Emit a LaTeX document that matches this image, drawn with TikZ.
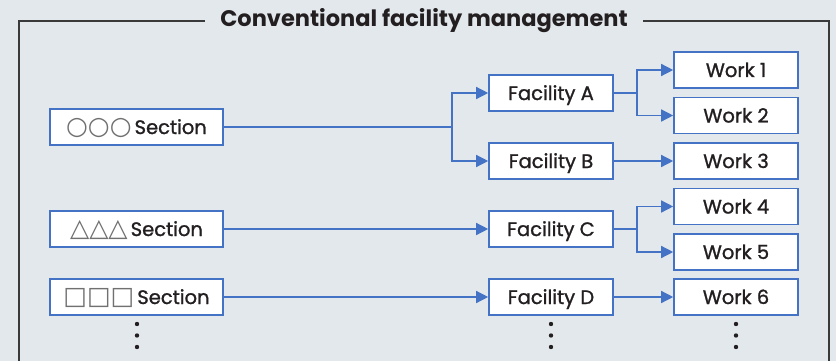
\documentclass[tikz,border=0pt]{standalone}
\usepackage{fontspec}
\setmainfont{Poppins}
\newfontfamily\medfont{Poppins}[FakeBold=1.2]
\newfontfamily\shapefont{DejaVu Sans}
\usetikzlibrary{arrows.meta}
\definecolor{bgcol}{HTML}{E3E8ED}
\definecolor{boxblue}{HTML}{4472C4}
\definecolor{textcol}{HTML}{231F20}
\definecolor{framecol}{HTML}{3A3A3A}
\definecolor{symgrey}{HTML}{707070}
\tikzset{
  unitbox/.style={draw=boxblue, line width=1.6pt, fill=white, minimum height=36pt,
    inner sep=0pt, text height=14pt, text depth=0pt, text=textcol,
    font=\medfont\fontsize{19.5}{20}\selectfont},
  sectbox/.style={unitbox, minimum width=173pt},
  facbox/.style={unitbox, minimum width=124pt},
  wire/.style={draw=boxblue, line width=1.4pt},
  link/.style={wire, -{Triangle[length=12pt,width=12pt]}},
  moredots/.style={fill=textcol},
}
\newcommand{\shapes}[1]{{\shapefont\fontsize{25}{20}\selectfont\color{symgrey}#1}\hspace{3pt}}
\begin{document}
\begin{tikzpicture}[x=1pt,y=-1pt]
                    % background and page size
                    \fill [bgcol] (0,0) rectangle (836,361);
                    \useasboundingbox (0,0) rectangle (836,361);

                    % Drawing frame
                    \draw [framecol, line width=1.6pt] (19,370) -- (19,21) -- (829,21) -- (829,370);%

                    % Marking title
                    \node (title) [fill=bgcol, inner xsep=15pt, text=textcol,
                      font=\fontsize{22.5}{24}\selectfont\bfseries] at (424,21) {Conventional facility management};%

                    % Sections
                    \node (sec1) [sectbox] at (136.5,127) {\shapes{○○○}Section};%
                    \node (sec2) [sectbox] at (136.5,229) {\shapes{△△△}Section};%
                    \node (sec3) [sectbox] at (136.5,297) {\shapes{□□□}Section};%

                    % Facilities
                    \node (facA) [facbox] at (551,93) {Facility A};%
                    \node (facB) [facbox] at (551,161) {Facility B};%
                    \node (facC) [facbox] at (551,229) {Facility C};%
                    \node (facD) [facbox] at (551,297) {Facility D};%

                    % Works
                    \node (work1) [facbox] at (736,70) {Work 1};%
                    \node (work2) [facbox] at (736,115.5) {Work 2};%
                    \node (work3) [facbox] at (736,161) {Work 3};%
                    \node (work4) [facbox] at (736,206.5) {Work 4};%
                    \node (work5) [facbox] at (736,252) {Work 5};%
                    \node (work6) [facbox] at (736,297) {Work 6};%

                    % Branch points
                    \coordinate (fork1) at (452,127);%
                    \coordinate (forkA) at (637,93);%
                    \coordinate (forkC) at (637,229);%

                    % Drawing links from sections
                    \draw [wire] (sec1.east) -- (fork1);%
                    \draw [link] (fork1) |- (facA);%
                    \draw [link] (fork1) |- (facB);%
                    \draw [link] (sec2) -- (facC);%
                    \draw [link] (sec3) -- (facD);%

                    % Drawing links from facilities
                    \draw [wire] (facA.east) -- (forkA);%
                    \draw [link] (forkA) |- (work1);%
                    \draw [link] (forkA) |- (work2);%
                    \draw [link] (facB) -- (work3);%
                    \draw [wire] (facC.east) -- (forkC);%
                    \draw [link] (forkC) |- (work4);%
                    \draw [link] (forkC) |- (work5);%
                    \draw [link] (facD) -- (work6);%

                    % Marking continuation dots
                    \foreach \x in {137,551,736} {
                      \foreach \y in {324,335.5,347}
                        \fill [moredots] (\x,\y) circle (2.2);
                    }
\end{tikzpicture}
\end{document}
